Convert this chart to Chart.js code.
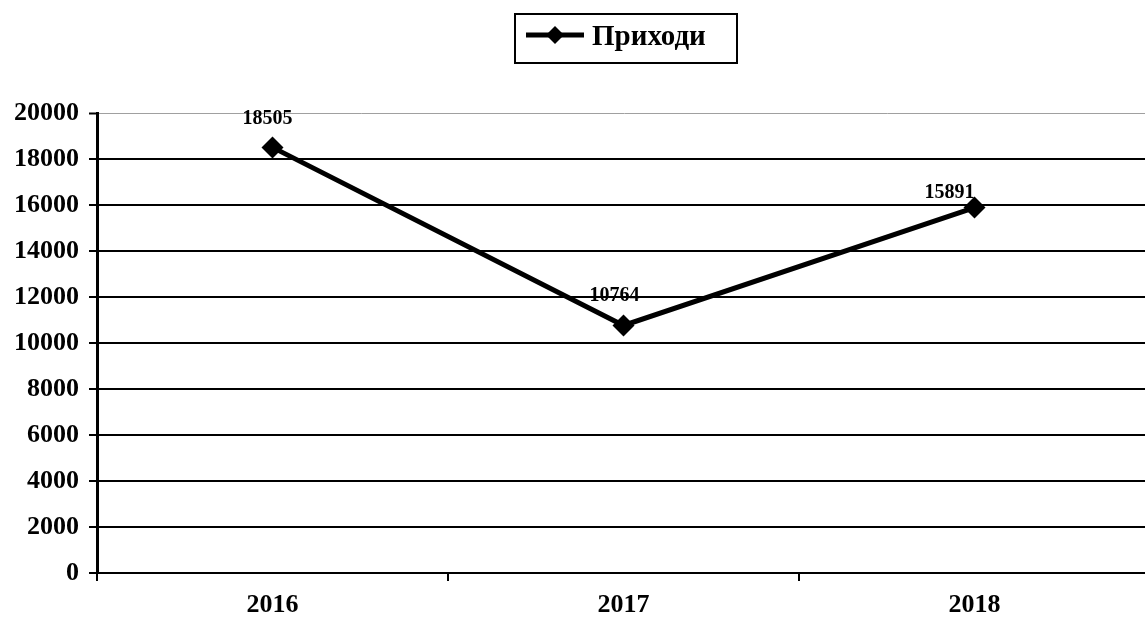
<!DOCTYPE html>
<html>
<head>
<meta charset="utf-8">
<script src="https://cdn.jsdelivr.net/npm/chart.js@4"></script>
<style>
  html, body { margin: 0; padding: 0; background: #fff; overflow: hidden; }
  #wrap { width: 1161px; height: 624px; }
</style>
</head>
<body>
<div id="wrap"><canvas id="incomeChart" width="1161" height="624"></canvas></div>
<script>
const years = ['2016', '2017', '2018'];
const incomes = [18505, 10764, 15891];
const seriesName = 'Приходи';
const yTicks = [0, 2000, 4000, 6000, 8000, 10000, 12000, 14000, 16000, 18000, 20000];

const FONT = '"Liberation Serif", "Times New Roman", serif';
// nudge of each value label from its point (dx, dy)
const labelShift = [[-5, -29], [-9, -30], [-25, -15]];

// legend with a framed box, drawn by hand
const boxLegend = {
    id: 'boxLegend',
    afterDraw(chart) {
        const c = chart.ctx;
        c.save();
        c.strokeStyle = '#000';
        c.lineWidth = 2;
        c.strokeRect(515, 14, 222, 49);
        c.lineWidth = 5;
        c.beginPath();
        c.moveTo(526, 35);
        c.lineTo(584, 35);
        c.stroke();
        c.fillStyle = '#000';
        c.beginPath();
        c.moveTo(555, 26);
        c.lineTo(564, 35);
        c.lineTo(555, 44);
        c.lineTo(546, 35);
        c.closePath();
        c.fill();
        c.font = 'bold 29px ' + FONT;
        c.textBaseline = 'middle';
        c.textAlign = 'left';
        c.fillText(chart.data.datasets[0].label, 592, 38);
        c.restore();
    }
};

// values above points
const valueLabels = {
    id: 'valueLabels',
    afterDatasetsDraw(chart) {
        const c = chart.ctx;
        const meta = chart.getDatasetMeta(0);
        c.save();
        c.font = 'bold 20px ' + FONT;
        c.fillStyle = '#000';
        c.textAlign = 'center';
        c.textBaseline = 'middle';
        meta.data.forEach(function (pt, i) {
            const d = labelShift[i] || [0, -29];
            c.fillText(String(chart.data.datasets[0].data[i]), pt.x + d[0], pt.y + d[1]);
        });
        c.restore();
    }
};

document.addEventListener('DOMContentLoaded', function () {
    const ctx = document.getElementById('incomeChart').getContext('2d');
    new Chart(ctx, {
        type: 'line',
        data: {
            labels: years,
            datasets: [{
                label: seriesName,
                data: incomes,
                borderColor: '#000',
                backgroundColor: '#000',
                borderWidth: 5,
                pointStyle: 'rectRot',
                pointRadius: 11,
                pointHoverRadius: 11,
                pointBorderWidth: 0,
                tension: 0
            }]
        },
        options: {
            responsive: false,
            animation: false,
            layout: { padding: { top: 113, left: 0, right: 0, bottom: 0 } },
            plugins: {
                legend: { display: false },
                tooltip: { enabled: false }
            },
            scales: {
                x: {
                    offset: true,
                    grid: {
                        offset: true,
                        drawOnChartArea: false,
                        drawTicks: true,
                        tickLength: 8,
                        color: '#000',
                        lineWidth: 2
                    },
                    border: { color: '#000', width: 2 },
                    ticks: {
                        color: '#000',
                        font: { family: FONT, size: 26, weight: 'bold' },
                        padding: 9
                    },
                    afterFit: function (s) { s.height = 51; }
                },
                y: {
                    min: 0,
                    max: 20000,
                    afterBuildTicks: function (s) {
                        s.ticks = yTicks.map(function (v) { return { value: v }; });
                    },
                    grid: {
                        color: function (c) { return c.tick && c.tick.value === 20000 ? '#a0a0a0' : '#000'; },
                        lineWidth: function (c) { return c.tick && c.tick.value === 20000 ? 1 : 2; },
                        tickLength: 8,
                        tickColor: '#000',
                        tickWidth: 2
                    },
                    border: { color: '#000', width: 3 },
                    ticks: {
                        color: '#000',
                        font: { family: FONT, size: 26, weight: 'bold' },
                        padding: 10,
                        callback: function (v) { return String(v); }
                    },
                    afterFit: function (s) { s.width = 97; }
                }
            }
        },
        plugins: [boxLegend, valueLabels]
    });
});
</script>
</body>
</html>
